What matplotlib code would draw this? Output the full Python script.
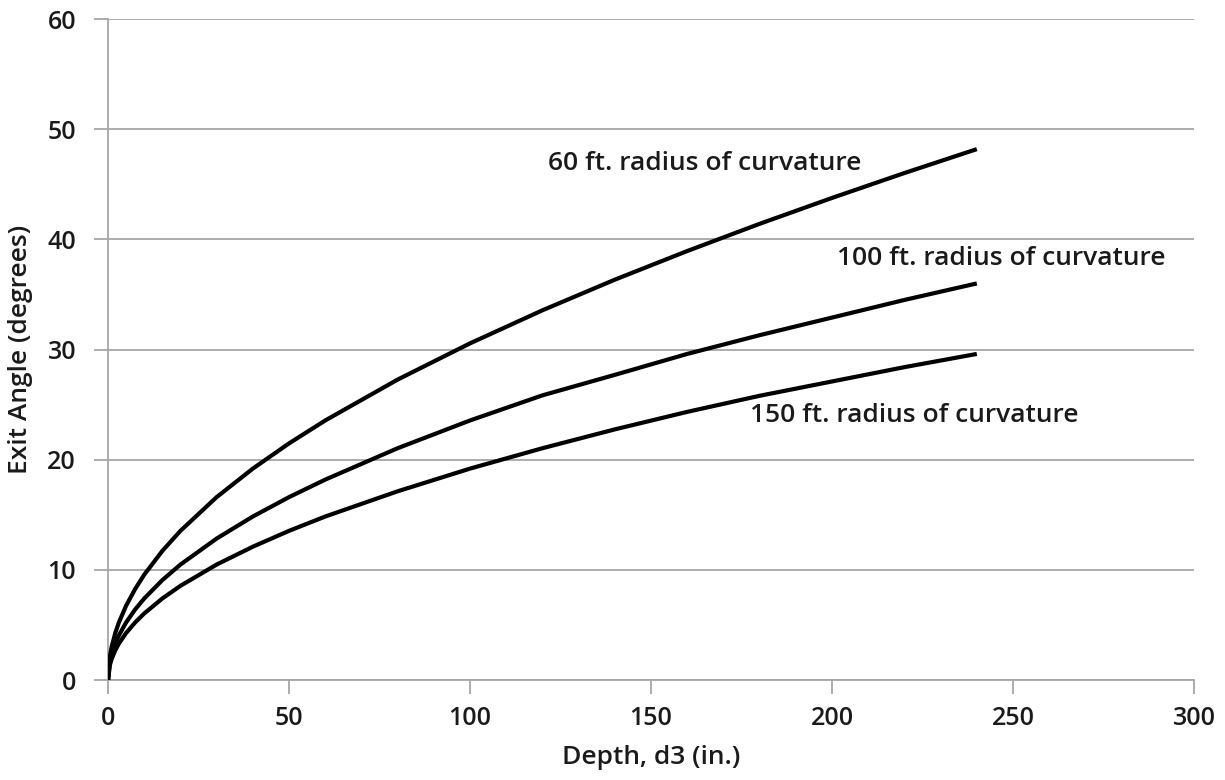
import matplotlib
matplotlib.use("Agg")
import matplotlib.pyplot as plt

depth = [0, 0.5, 1, 2, 3, 5, 7.5, 10, 15, 20, 30, 40, 50, 60, 80, 100, 120, 140, 160, 180, 200, 220, 240]
angle_60ft = [0, 2.14, 3.02, 4.27, 5.23, 6.75, 8.27, 9.56, 11.72, 13.54, 16.6, 19.19, 21.48, 23.56, 27.27,
              30.56, 33.56, 36.34, 38.94, 41.41, 43.76, 46.02, 48.19]
angle_100ft = [0, 1.65, 2.34, 3.31, 4.05, 5.23, 6.41, 7.40, 9.07, 10.48, 12.84, 14.84, 16.6, 18.19, 21.04,
               23.56, 25.84, 27.7, 29.6, 31.3, 32.9, 34.5, 36.0]
angle_150ft = [0, 1.35, 1.91, 2.70, 3.31, 4.27, 5.23, 6.04, 7.40, 8.55, 10.48, 12.10, 13.54, 14.84, 17.13,
               19.19, 21.04, 22.75, 24.34, 25.8, 27.1, 28.4, 29.6]
labels = ["60 ft. radius of curvature", "100 ft. radius of curvature", "150 ft. radius of curvature"]
x_ticks = [0, 50, 100, 150, 200, 250, 300]
y_ticks = [0, 10, 20, 30, 40, 50, 60]

plt.rcParams['font.family'] = ['Open Sans', 'DejaVu Sans']
fig = plt.figure(figsize=(12.25, 7.8), dpi=100)
ax = fig.add_axes([0.0882, 0.1282, 0.8865, 0.8474])

for ys in (angle_60ft, angle_100ft, angle_150ft):
    ax.plot(depth, ys, color='black', lw=3.0, solid_capstyle='butt', zorder=3)

ax.set_xlim(0, 300)
ax.set_ylim(0, 60)
ax.set_xticks(x_ticks)
ax.set_yticks(y_ticks)
ax.grid(axis='y', color='#a6a6a6', lw=1.3)
ax.set_axisbelow(True)
for s in ('top', 'right'):
    ax.spines[s].set_visible(False)
for s in ('left', 'bottom'):
    ax.spines[s].set_color('#a6a6a6')
    ax.spines[s].set_linewidth(1.3)
txt = '#1a1a1a'
ax.tick_params(axis='both', colors='#a6a6a6', length=10, width=1.3, labelcolor=txt,
               labelsize=18)
for t in ax.get_xticklabels() + ax.get_yticklabels():
    t.set_fontweight('semibold')
ax.tick_params(axis='x', pad=9)
ax.tick_params(axis='y', pad=13)

ax.set_xlabel("Depth, d3 (in.)", fontsize=19, fontweight='semibold', color=txt, labelpad=10)
ax.set_ylabel("Exit Angle (degrees)", fontsize=19, fontweight='semibold', color=txt, labelpad=10)

ax.text(121.5, 46.9, labels[0], fontsize=19, fontweight='semibold', color=txt, va='center', ha='left')
ax.text(201.4, 38.3, labels[1], fontsize=19, fontweight='semibold', color=txt, va='center', ha='left')
ax.text(177.3, 24.0, labels[2], fontsize=19, fontweight='semibold', color=txt, va='center', ha='left')

fig.savefig("out.png", dpi=100)
